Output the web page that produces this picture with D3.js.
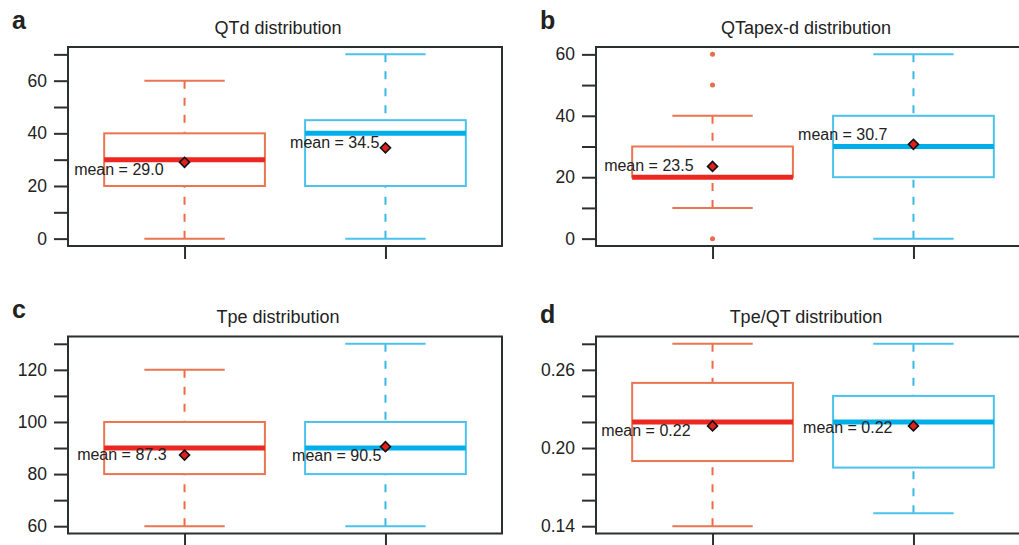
<html>
    <head>
        <meta charset="utf-8">
        <script src="https://d3js.org/d3.v7.min.js"></script>
        <title>distributions</title>
    </head>
    <style>
        body{
            margin: 0;
            background: #fff;
        }
        svg text{
            font-family: "Liberation Sans", Arial, Helvetica, sans-serif;
            fill: #222;
        }
        .axis line{
            stroke: #2b2f2f;
            stroke-width: 2;
        }
        .axis .domain{
            stroke: none;
        }
    </style>
    <body>
        <svg id="chart"></svg>
        <script>
            // data, one entry per panel, [group 1, group 2]
            const panelLetters = ['a', 'b', 'c', 'd'];
            const panelTitles = ['QTd distribution', 'QTapex-d distribution', 'Tpe distribution', 'Tpe/QT distribution'];

            const whiskerLow  = [[0, 0], [10, 0], [60, 60], [0.14, 0.15]];
            const quartile1   = [[20, 20], [20, 20], [80, 80], [0.19, 0.185]];
            const medians     = [[30, 40], [20, 30], [90, 90], [0.22, 0.22]];
            const quartile3   = [[40, 45], [30, 40], [100, 100], [0.25, 0.24]];
            const whiskerHigh = [[60, 70], [40, 60], [120, 130], [0.28, 0.28]];
            const means       = [[29.0, 34.5], [23.5, 30.7], [87.3, 90.5], [0.217, 0.217]];
            const meanDigits  = [1, 1, 1, 2];
            const outliers    = [[[], []], [[0, 50, 60], []], [[], []], [[], []]];

            const yTicks = [
                [0, 10, 20, 30, 40, 50, 60, 70],
                [0, 10, 20, 30, 40, 50, 60],
                [60, 70, 80, 90, 100, 110, 120, 130],
                [0.14, 0.16, 0.18, 0.20, 0.22, 0.24, 0.26, 0.28]
            ];
            const yTickLabels = [
                [0, 20, 40, 60],
                [0, 20, 40, 60],
                [60, 80, 100, 120],
                [0.14, 0.20, 0.26]
            ];

            // layout (pixels)
            const width = 1019, height = 545;
            const frames = [
                {x: 68,  y: 47,    w: 434, h: 199, letterY: 29,  titleY: 34},
                {x: 596, y: 47,    w: 434, h: 199, letterY: 29,  titleY: 34},
                {x: 68,  y: 336.5, w: 434, h: 197, letterY: 318, titleY: 323},
                {x: 596, y: 336.5, w: 434, h: 197, letterY: 323, titleY: 323}
            ];
            // mean label offset from the diamond: [dx of text end, dy of baseline]
            const labelShift = [
                [[-21, 13], [-6, 0]],
                [[-19, 5], [-26, -4]],
                [[-18, 5], [-4, 14]],
                [[-22, 10], [-21, 7]]
            ];

            const outlineColors = ['#ea7550', '#4ac2ec'];
            const medianColors = ['#ec2620', '#00afea'];
            const whiskerColors = ['#ec6c48', '#3cb9e3'];

            let svg = d3.select('svg#chart')
                        .attr('width', width)
                        .attr('height', height);

            frames.forEach((f, p) => {
                let lows = whiskerLow[p].concat(outliers[p].flat());
                let highs = whiskerHigh[p].concat(outliers[p].flat());
                let lo = d3.min(lows), hi = d3.max(highs);
                let pad = (hi - lo) * 0.04;

                const xScale = d3.scaleLinear()
                                 .domain([0.42, 2.58])
                                 .range([f.x, f.x + f.w]);
                const yScale = d3.scaleLinear()
                                 .domain([lo - pad, hi + pad])
                                 .range([f.y + f.h, f.y]);

                let g = svg.append('g');

                // panel letter and title
                g.append('text')
                 .attr('x', f.x - 56)
                 .attr('y', f.letterY)
                 .style('font-size', '25px')
                 .style('font-weight', 'bold')
                 .text(panelLetters[p]);

                g.append('text')
                 .attr('x', f.x + 210)
                 .attr('y', f.titleY)
                 .attr('text-anchor', 'middle')
                 .style('font-size', '18px')
                 .text(panelTitles[p]);

                // y axis: tick every step, label every other one
                let labelSet = yTickLabels[p].map(v => v.toFixed(2));
                let yAxis = d3.axisLeft(yScale)
                              .tickValues(yTicks[p])
                              .tickSize(14)
                              .tickPadding(7)
                              .tickFormat(v => labelSet.includes(v.toFixed(2)) ? (p === 3 ? v.toFixed(2) : v) : '');
                g.append('g')
                 .attr('class', 'axis')
                 .attr('transform', `translate(${f.x}, 0)`)
                 .call(yAxis)
                 .selectAll('text')
                 .style('font-size', '17.5px')
                 .style('fill', '#222');

                let xAxis = d3.axisBottom(xScale)
                              .tickValues([1, 2])
                              .tickSize(13)
                              .tickFormat('');
                g.append('g')
                 .attr('class', 'axis')
                 .attr('transform', `translate(0, ${f.y + f.h})`)
                 .call(xAxis);

                [0, 1].forEach(i => {
                    let cx = xScale(i + 1);
                    let halfBox = xScale(i + 1.4) - cx;
                    let halfCap = xScale(i + 1.2) - cx;

                    // dashed whiskers, drawn from the cap toward the box
                    [[whiskerHigh[p][i], quartile3[p][i]], [whiskerLow[p][i], quartile1[p][i]]].forEach(w => {
                        g.append('line')
                         .attr('x1', cx).attr('x2', cx)
                         .attr('y1', yScale(w[0])).attr('y2', yScale(w[1]))
                         .attr('stroke', whiskerColors[i])
                         .attr('stroke-width', 2)
                         .attr('stroke-dasharray', '8,9');
                        g.append('line')
                         .attr('x1', cx - halfCap).attr('x2', cx + halfCap)
                         .attr('y1', yScale(w[0])).attr('y2', yScale(w[0]))
                         .attr('stroke', outlineColors[i])
                         .attr('stroke-width', 2);
                    });

                    // box
                    g.append('rect')
                     .attr('x', cx - halfBox)
                     .attr('y', yScale(quartile3[p][i]))
                     .attr('width', halfBox * 2)
                     .attr('height', yScale(quartile1[p][i]) - yScale(quartile3[p][i]))
                     .attr('fill', '#fff')
                     .attr('stroke', outlineColors[i])
                     .attr('stroke-width', 2);

                    // median
                    g.append('line')
                     .attr('x1', cx - halfBox).attr('x2', cx + halfBox)
                     .attr('y1', yScale(medians[p][i])).attr('y2', yScale(medians[p][i]))
                     .attr('stroke', medianColors[i])
                     .attr('stroke-width', 5);

                    // outliers
                    outliers[p][i].forEach(v => {
                        g.append('circle')
                         .attr('cx', cx)
                         .attr('cy', yScale(v))
                         .attr('r', 2.5)
                         .attr('fill', whiskerColors[i]);
                    });

                    // mean diamond and label
                    let my = yScale(means[p][i]);
                    g.append('path')
                     .attr('d', d3.symbol(d3.symbolSquare, 50)())
                     .attr('transform', `translate(${cx}, ${my}) rotate(45)`)
                     .attr('fill', '#e0201c')
                     .attr('stroke', '#111')
                     .attr('stroke-width', 1.6);

                    g.append('text')
                     .attr('x', cx + labelShift[p][i][0])
                     .attr('y', my + labelShift[p][i][1])
                     .attr('text-anchor', 'end')
                     .style('font-size', '16px')
                     .text('mean = ' + means[p][i].toFixed(meanDigits[p]));
                });

                // frame
                g.append('rect')
                 .attr('x', f.x)
                 .attr('y', f.y)
                 .attr('width', f.w)
                 .attr('height', f.h)
                 .attr('fill', 'none')
                 .attr('stroke', '#2b2f2f')
                 .attr('stroke-width', 2);
            });
        </script>
    </body>
</html>
